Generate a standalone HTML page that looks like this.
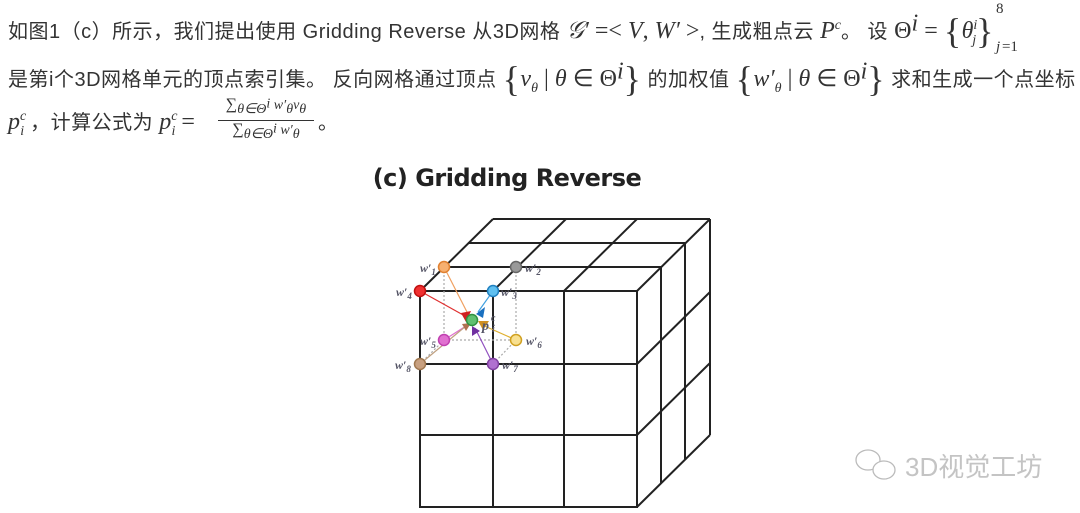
<!DOCTYPE html>
<html><head><meta charset="utf-8"><style>
body{margin:0;width:1080px;height:513px;background:#fff;overflow:hidden;position:relative;font-family:"Liberation Sans","Noto Sans CJK SC",sans-serif;color:#333}
.l{position:absolute;left:8px;font-size:20px;white-space:nowrap;letter-spacing:0.5px}
.m{font-family:"Liberation Serif",serif;font-style:italic;font-size:24px;letter-spacing:0}
.r{font-family:"Liberation Serif",serif;font-size:24px;letter-spacing:0}
.big{font-size:36px;font-family:"Liberation Serif",serif;vertical-align:-5px}
sup,sub{font-size:14px}
</style></head><body>
<div class="l" style="top:10px">如图1（c）所示，我们提出使用 Gridding Reverse 从3D网格 <span class="m">𝒢′</span> <span class="r">=&lt; </span><span class="m">V</span><span class="r">, </span><span class="m">W′</span><span class="r"> &gt;</span>, 生成粗点云 <span class="m">P<sup>c</sup></span>。 设 <span class="r">Θ</span><sup class="m">i</sup> <span class="r">=</span> <span class="big">{</span><span class="m">θ<sup>i</sup><sub style="margin-left:-5px">j</sub></span><span class="big">}</span><span style="position:relative"><span style="position:absolute;left:2px;top:-20px;font-size:15px" class="r">8</span><span style="position:absolute;left:2px;top:18px;font-size:15px" class="m">j</span><span style="position:absolute;left:8px;top:18px;font-size:15px" class="r">=1</span></span></div>
<div class="l" style="top:58px">是第i个3D网格单元的顶点索引集。 反向网格通过顶点 <span class="big">{</span><span class="m">v<sub>θ</sub></span> <span class="r">|</span> <span class="m">θ</span> <span class="r">∈ Θ</span><sup class="m">i</sup><span class="big">}</span> 的加权值 <span class="big">{</span><span class="m">w′<sub>θ</sub></span> <span class="r">|</span> <span class="m">θ</span> <span class="r">∈ Θ</span><sup class="m">i</sup><span class="big">}</span> 求和生成一个点坐标</div>
<div class="l" style="top:106px"><span class="m">p<sup>c</sup><sub style="margin-left:-6px">i</sub></span> ，计算公式为 <span class="m">p<sup>c</sup><sub style="margin-left:-6px">i</sub></span> <span class="r">=</span></div>
<div style="position:absolute;left:218px;top:96px;font-size:14px;text-align:center;width:96px" class="m"><div style="border-bottom:1px solid #333;padding-bottom:2px"><span class="r" style="font-size:16px">∑</span><sub>θ∈Θ<sup>i</sup></sub> w′<sub>θ</sub>v<sub>θ</sub></div><div><span class="r" style="font-size:16px">∑</span><sub>θ∈Θ<sup>i</sup></sub> w′<sub>θ</sub></div></div>
<div class="l" style="top:106px;left:318px">。</div>
<div style="position:absolute;left:0;width:1014px;text-align:center;top:164px;font-size:24px;font-weight:bold;color:#222;font-family:'DejaVu Sans',sans-serif;letter-spacing:-0.5px">(c) Gridding Reverse</div>
<svg style="position:absolute;left:0;top:0" width="1080" height="513">
<g stroke="#222" stroke-width="2" fill="none">
<rect x="420" y="291" width="217" height="216"/>
<line x1="493" y1="291" x2="493" y2="507"/><line x1="564" y1="291" x2="564" y2="507"/>
<line x1="420" y1="364" x2="637" y2="364"/><line x1="420" y1="435" x2="637" y2="435"/>
<line x1="420" y1="291" x2="493" y2="219"/><line x1="493" y1="291" x2="566" y2="219"/><line x1="564" y1="291" x2="637" y2="219"/><line x1="637" y1="291" x2="710" y2="219"/>
<line x1="444" y1="267" x2="661" y2="267"/><line x1="468" y1="243" x2="685" y2="243"/><line x1="493" y1="219" x2="710" y2="219"/>
<line x1="661" y1="267" x2="661" y2="483"/><line x1="685" y1="243" x2="685" y2="459"/><line x1="710" y1="219" x2="710" y2="435"/>
<line x1="637" y1="364" x2="710" y2="292"/><line x1="637" y1="435" x2="710" y2="363"/><line x1="637" y1="507" x2="710" y2="435"/>
</g>
<g stroke="#aaa" stroke-width="1.2" stroke-dasharray="2,2" fill="none">
<line x1="444" y1="267" x2="444" y2="340"/><line x1="516" y1="267" x2="516" y2="340"/><line x1="444" y1="340" x2="516" y2="340"/>
<line x1="420" y1="364" x2="444" y2="340"/><line x1="493" y1="364" x2="516" y2="340"/>
</g>
<g stroke-width="1.2">
<line x1="444" y1="267" x2="468" y2="314" stroke="#f0a060"/>
<line x1="420" y1="291" x2="465" y2="316" stroke="#e03030"/>
<line x1="493" y1="291" x2="478" y2="312" stroke="#40a0e0"/>
<line x1="444" y1="340" x2="466" y2="326" stroke="#e070d0"/>
<line x1="516" y1="340" x2="480" y2="324" stroke="#e0b030"/>
<line x1="493" y1="364" x2="475" y2="328" stroke="#9050c0"/>
<line x1="420" y1="364" x2="466" y2="326" stroke="#c0a080"/>
</g>
<polygon points="461,313 471,311 466,322" fill="#d02020"/>
<polygon points="476,314 485,307 483,318" fill="#1a70c0"/>
<polygon points="462,324 471,323 466,331" fill="#b07050"/>
<polygon points="478,321 489,321 483,330" fill="#d09020"/>
<polygon points="472,326 480,331 472,336" fill="#7030a0"/>
<g stroke-width="1.5">
<circle cx="444" cy="267" r="5.5" fill="#f7b070" stroke="#e08030"/>
<circle cx="516" cy="267" r="5.5" fill="#999" stroke="#666"/>
<circle cx="420" cy="291" r="5.5" fill="#f03030" stroke="#c01010"/>
<circle cx="493" cy="291" r="5.5" fill="#60c0f0" stroke="#2080c0"/>
<circle cx="444" cy="340" r="5.5" fill="#e070d0" stroke="#c040b0"/>
<circle cx="516" cy="340" r="5.5" fill="#f8e090" stroke="#d0a020"/>
<circle cx="420" cy="364" r="5.5" fill="#c8a080" stroke="#a07850"/>
<circle cx="493" cy="364" r="5.5" fill="#b070d0" stroke="#8040a0"/>
<circle cx="472" cy="320" r="5.5" fill="#60c070" stroke="#309040"/>
</g>
<g font-family="Liberation Serif,serif" font-style="italic" font-weight="bold" font-size="12" fill="#556">
<text x="420" y="272">w′<tspan font-size="9" dy="3">1</tspan></text><text x="525" y="272">w′<tspan font-size="9" dy="3">2</tspan></text>
<text x="396" y="296">w′<tspan font-size="9" dy="3">4</tspan></text><text x="501" y="296">w′<tspan font-size="9" dy="3">3</tspan></text>
<text x="420" y="345">w′<tspan font-size="9" dy="3">5</tspan></text><text x="526" y="345">w′<tspan font-size="9" dy="3">6</tspan></text>
<text x="395" y="369">w′<tspan font-size="9" dy="3">8</tspan></text><text x="502" y="369">w′<tspan font-size="9" dy="3">7</tspan></text>
<text x="482" y="330" font-size="14">p</text><text x="491" y="321" font-size="10">c</text><text x="492" y="332" font-size="10">i</text>
</g>
<g fill="none" stroke="#bbb" stroke-width="1.3">
<ellipse cx="868" cy="460" rx="12" ry="10"/><ellipse cx="884" cy="470" rx="11" ry="9" fill="#fff"/>
</g>
<text x="905" y="476" font-family="Liberation Sans,Noto Sans CJK SC,sans-serif" font-size="26" fill="#c4c4c4">3D视觉工坊</text>
</svg>
</body></html>
